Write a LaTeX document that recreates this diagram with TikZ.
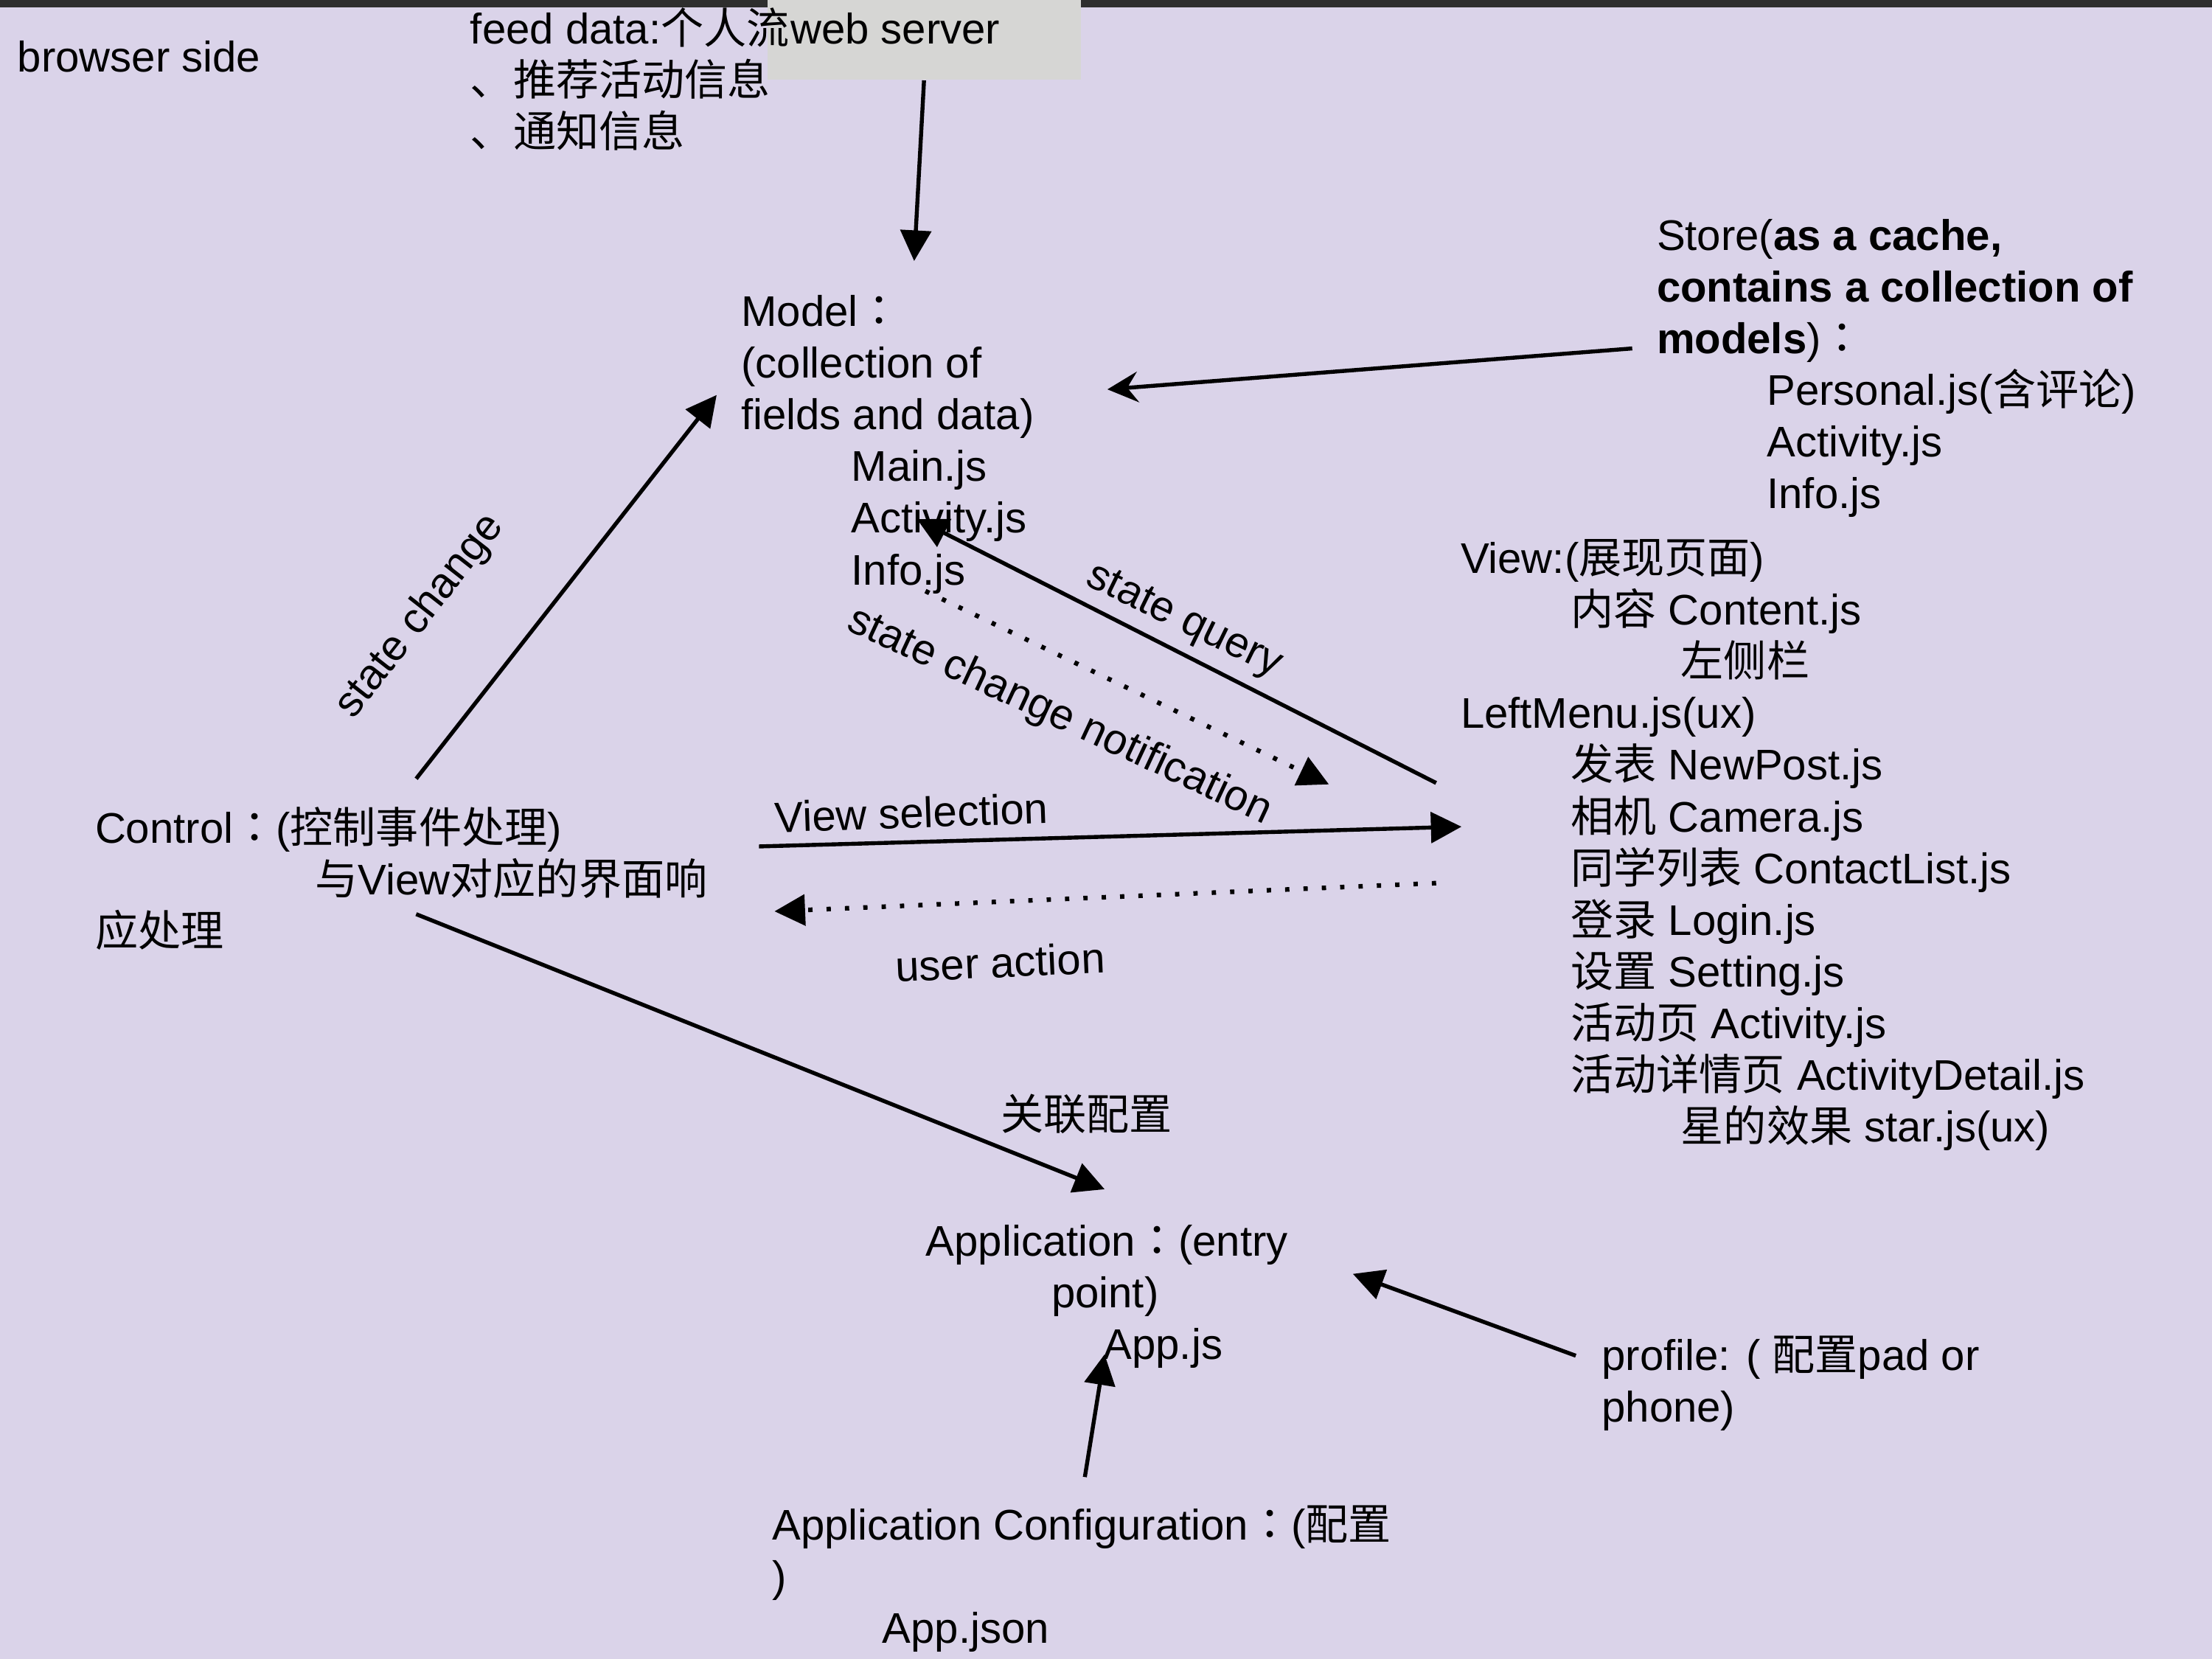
\documentclass[tikz,border=0pt]{standalone}
\usepackage{fontspec}
\setmainfont{Liberation Sans}
\newfontfamily\cjkfont{Noto Sans CJK SC}
\newfontfamily\cjkpunct{Noto Sans CJK TC}
\newcommand{\zh}[1]{{\cjkfont #1}}
\newcommand{\fcolon}{{\cjkpunct ：}}
\usetikzlibrary{arrows.meta}
\usetikzlibrary{positioning}

\definecolor{slidebg}{RGB}{218,211,233}
\definecolor{boxgrey}{RGB}{214,214,212}
\definecolor{barblack}{RGB}{46,46,46}

% multi-line nodes sit on the baseline of their last line
\tikzset{
  txt/.style={anchor=base west, inner sep=0pt, align=left,
    font=\fontsize{14pt}{16.9pt}\selectfont},
  lbl/.style={inner sep=0pt, font=\fontsize{14pt}{16.9pt}\selectfont},
  flow/.style={line width=1.3pt, -{Triangle[length=10pt,width=10pt]}},
  dots/.style={flow, line width=1.5pt, line cap=butt, dash pattern=on 1.4pt off 4.6pt},
}

\begin{document}
\begin{tikzpicture}[x=0.0162cm,y=-0.0162cm]

  % slide background
  \fill[slidebg] (0,0) rectangle (1568,1176);
  \useasboundingbox (0,0) rectangle (1568,1176);
  \fill[barblack] (0,0) rectangle (1568,5.2);
  \fill[boxgrey] (544,0) rectangle (766,56.6);

  % text blocks
  \node[txt] (browser) at (12,51) {browser side};
  \node[txt] (feed) at (333,104.5)
    {feed data:\zh{个人流}\\\zh{、推荐活动信息}\\\zh{、通知信息}};
  \node[txt] (server) at (560,31) {web server};
  \node[txt] (model) at (525,414.5)
    {Model\fcolon\\(collection of\\fields and data)\\
     \hspace*{36pt}Main.js\\\hspace*{36pt}Activity.js\\\hspace*{36pt}Info.js};
  \node[txt] (store) at (1174,360.5)
    {Store(\textbf{as a cache,}\\\textbf{contains a collection of}\\
     \textbf{models})\fcolon\\\hspace*{36pt}Personal.js(\zh{含评论})\\
     \hspace*{36pt}Activity.js\\\hspace*{36pt}Info.js};
  \node[txt] (view) at (1035,809.5)
    {View:(\zh{展现页面})\\
     \hspace*{36pt}\zh{内容} Content.js\\
     \hspace*{72pt}\zh{左侧栏}\\
     LeftMenu.js(ux)\\
     \hspace*{36pt}\zh{发表} NewPost.js\\
     \hspace*{36pt}\zh{相机} Camera.js\\
     \hspace*{36pt}\zh{同学列表} ContactList.js\\
     \hspace*{36pt}\zh{登录} Login.js\\
     \hspace*{36pt}\zh{设置} Setting.js\\
     \hspace*{36pt}\zh{活动页} Activity.js\\
     \hspace*{36pt}\zh{活动详情页} ActivityDetail.js\\
     \hspace*{72pt}\zh{星的效果} star.js(ux)};
  \node[txt] (control) at (67,671)
    {Control\fcolon(\zh{控制事件处理})\\
     \hspace*{72pt}\zh{与}View\zh{对应的界面响}\\\zh{应处理}};
  \node[txt] (app) at (656,963.5)
    {Application\fcolon(entry\\\hspace*{41pt}point)\\\hspace*{58pt}App.js};
  \node[txt] (config) at (547,1165)
    {Application Configuration\fcolon(\zh{配置}\\)\\\hspace*{36pt}App.json};
  \node[txt] (profile) at (1135,1008) {profile: ( \zh{配置}pad or\\phone)};
  \node[txt] (link) at (709,801) {\zh{关联配置}};

  % arrow end points
  \coordinate (srv-out)   at (655,57);
  \coordinate (mdl-top)   at (648,185);
  \coordinate (sto-out)   at (1157,247);
  \coordinate (mdl-right) at (785,276);
  \coordinate (ctl-up)    at (295,552);
  \coordinate (mdl-left)  at (508,280);
  \coordinate (vw-query)  at (1018,555);
  \coordinate (mdl-query) at (650,368);
  \coordinate (mdl-note)  at (656,419);
  \coordinate (vw-note)   at (942,556);
  \coordinate (ctl-sel)   at (538,600);
  \coordinate (vw-sel)    at (1036,586);
  \coordinate (vw-act)    at (1018,626);
  \coordinate (ctl-act)   at (549,646);
  \coordinate (ctl-app)   at (295,648);
  \coordinate (app-top)   at (783,843);
  \coordinate (prf-out)   at (1117,961);
  \coordinate (app-right) at (959,903);
  \coordinate (cfg-up)    at (769,1047);
  \coordinate (app-low)   at (783,960);

  % connectors
  \draw[flow] (srv-out) -- (mdl-top);
  \draw[flow, -{Stealth[length=10pt,width=10pt,inset=3.5pt]}] (sto-out) -- (mdl-right);
  \draw[flow] (ctl-up) -- (mdl-left);
  \draw[flow] (vw-query) -- (mdl-query);
  \draw[dots] (mdl-note) -- (vw-note);
  \draw[flow] (ctl-sel) -- (vw-sel);
  \draw[dots] (vw-act) -- (ctl-act);
  \draw[flow] (ctl-app) -- (app-top);
  \draw[flow] (prf-out) -- (app-right);
  \draw[flow] (cfg-up) -- (app-low);

  % connector labels
  \node[lbl, rotate=52] (l-change) at (298,437) {state change};
  \node[lbl, rotate=-26] (l-query) at (839,441) {state query};
  \node[lbl, rotate=-25] (l-note) at (751,508) {state change notification};
  \node[lbl, rotate=2] (l-sel) at (646,576) {View selection};
  \node[lbl, rotate=2.5] (l-act) at (709,682) {user action};

\end{tikzpicture}
\end{document}
